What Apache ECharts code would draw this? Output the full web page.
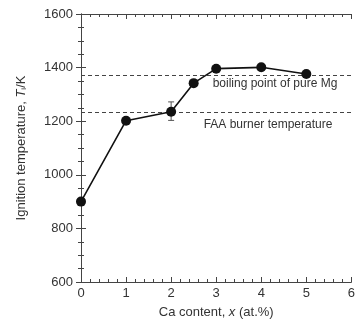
<!DOCTYPE html>
<html><head><meta charset="utf-8">
<script src="https://cdn.jsdelivr.net/npm/echarts@6/dist/echarts.min.js"></script>
<style>html,body{margin:0;padding:0;background:#fff}#c{width:358px;height:324px}</style>
</head><body><div id="c"></div>
<script>
const caContent = [0, 1, 2, 2.5, 3, 4, 5];
const ignitionT = [900, 1202, 1235, 1342, 1396, 1401, 1376];
const errX = [2];
const errLow = [1203];
const errHigh = [1272];
const boilingPointMg = 1370;
const faaBurnerT = 1233;
const boilingLabel = 'boiling point of pure Mg';
const faaLabel = 'FAA burner temperature';

const font = 'Liberation Sans, Arial, sans-serif';
const txt = '#333';
const axisCommon = {
  axisLine: {lineStyle: {color: '#444', width: 1}},
  splitLine: {show: false}
};
const chart = echarts.init(document.getElementById('c'));
chart.setOption({
  animation: false,
  grid: {left: 81, right: 5, top: 14, bottom: 42},
  xAxis: [
    Object.assign({type: 'value', min: 0, max: 6, interval: 1, position: 'bottom',
      axisTick: {inside: true, length: 5, lineStyle: {color: '#444'}},
      minorTick: {show: true, splitNumber: 5, length: 3, lineStyle: {color: '#444'}},
      axisLabel: {fontFamily: font, fontSize: 13, color: txt, margin: 5, formatter: v => String(v)},
      name: '{a|Ca content, }{i|x}{a| (at.%)}', nameLocation: 'middle', nameGap: 24,
      nameTextStyle: {rich: {a: {fontFamily: font, fontSize: 13, color: txt}, i: {fontFamily: font, fontSize: 13, color: txt, fontStyle: 'italic'}}}
    }, axisCommon),
    Object.assign({type: 'value', min: 0, max: 6, interval: 1, position: 'top',
      axisTick: {inside: true, length: 5, lineStyle: {color: '#444'}},
      minorTick: {show: true, splitNumber: 5, length: 3, lineStyle: {color: '#444'}},
      axisLabel: {show: false}
    }, axisCommon)
  ],
  yAxis: [
    Object.assign({type: 'value', min: 600, max: 1600, interval: 200, position: 'left',
      axisTick: {inside: true, length: 5, lineStyle: {color: '#444'}},
      minorTick: {show: true, splitNumber: 4, length: 3, lineStyle: {color: '#444'}},
      axisLabel: {fontFamily: font, fontSize: 13, color: txt, margin: 8, formatter: v => String(v)},
      name: '{a|Ignition temperature, }{i|T}{s|i}{a|/K}', nameLocation: 'middle', nameGap: 53, nameRotate: 90,
      nameTextStyle: {rich: {a: {fontFamily: font, fontSize: 13, color: txt}, i: {fontFamily: font, fontSize: 13, color: txt, fontStyle: 'italic'}, s: {fontFamily: font, fontSize: 8, color: txt, verticalAlign: 'bottom', padding: [6, 0, 0, 0]}}}
    }, axisCommon),
    Object.assign({type: 'value', min: 600, max: 1600, interval: 200, position: 'right',
      axisTick: {inside: true, length: 5, lineStyle: {color: '#444'}},
      minorTick: {show: true, splitNumber: 4, length: 3, lineStyle: {color: '#444'}},
      axisLabel: {show: false}
    }, axisCommon)
  ],
  series: [
    {
      type: 'line', xAxisIndex: 0, yAxisIndex: 0,
      data: caContent.map((x, i) => [x, ignitionT[i]]),
      symbol: 'circle', symbolSize: 10,
      lineStyle: {color: '#111', width: 1.6},
      itemStyle: {color: '#111'},
      z: 5,
      markLine: {
        silent: true, symbol: 'none',
        lineStyle: {color: '#444', type: [4, 3], width: 1},
        data: [
          {yAxis: boilingPointMg, label: {formatter: boilingLabel, position: 'insideEndBottom', distance: [14, 2]}},
          {yAxis: faaBurnerT, label: {formatter: faaLabel, position: 'insideEndBottom', distance: [19, 6]}}
        ],
        label: {fontFamily: font, fontSize: 12, color: txt}
      }
    },
    {
      type: 'custom', xAxisIndex: 0, yAxisIndex: 0,
      data: errX.map((x, i) => [x, errLow[i], errHigh[i]]),
      renderItem: function (params, api) {
        const lo = api.coord([api.value(0), api.value(1)]);
        const hi = api.coord([api.value(0), api.value(2)]);
        const w = 3;
        return {type: 'group', children: [
          {type: 'line', shape: {x1: lo[0], y1: lo[1], x2: hi[0], y2: hi[1]}, style: {stroke: '#555', lineWidth: 1}},
          {type: 'line', shape: {x1: lo[0] - w, y1: lo[1], x2: lo[0] + w, y2: lo[1]}, style: {stroke: '#555', lineWidth: 1}},
          {type: 'line', shape: {x1: hi[0] - w, y1: hi[1], x2: hi[0] + w, y2: hi[1]}, style: {stroke: '#555', lineWidth: 1}}
        ]};
      },
      z: 4
    }
  ]
});
</script></body></html>
